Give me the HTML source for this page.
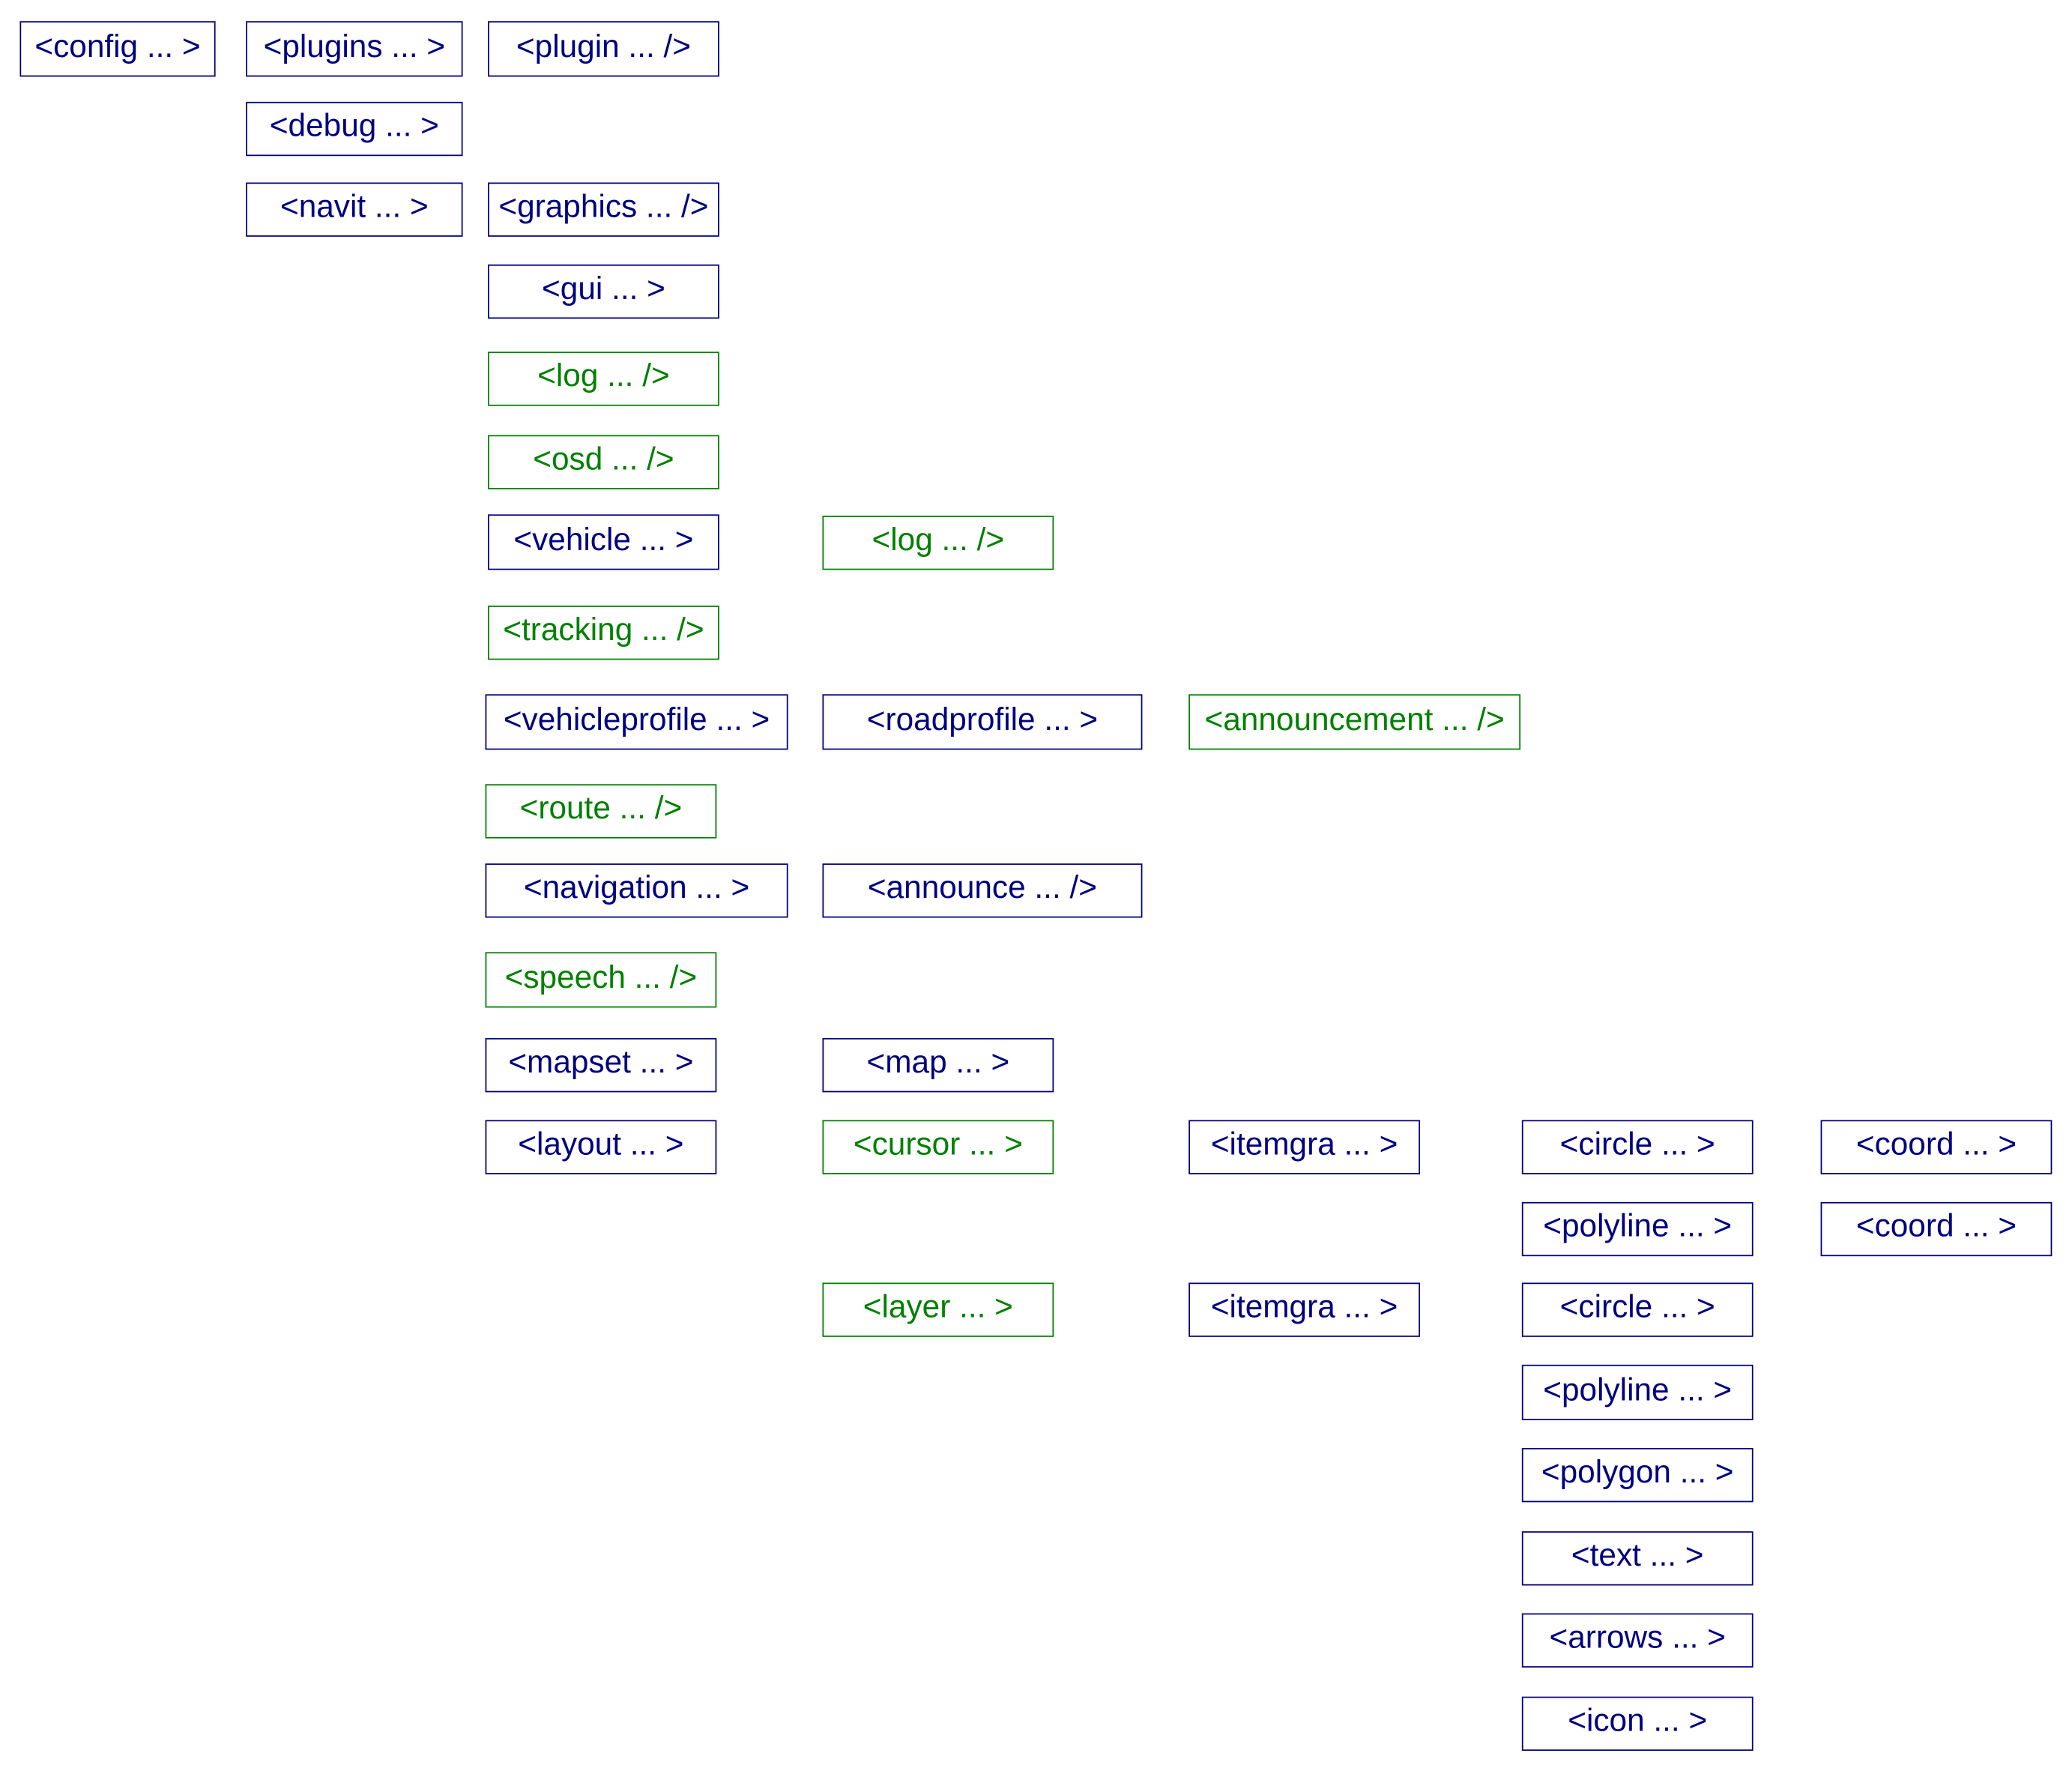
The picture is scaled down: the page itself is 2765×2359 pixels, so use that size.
<!DOCTYPE html>
<html><head><meta charset="utf-8"><style>
html,body{margin:0;padding:0;background:#fff;width:2765px;height:2359px;overflow:hidden}
#c{position:absolute;left:0;top:0;width:1560px;height:1331px;transform:scale(1.7644);transform-origin:0 0}
.b{position:absolute;box-sizing:border-box;border:1.6px solid #000080;color:#000080;font-family:"Liberation Sans",Arial,sans-serif;font-size:24px;display:flex;align-items:center;justify-content:center;white-space:nowrap;padding-bottom:3px}
.g{border-color:#008000;color:#008000}
</style></head><body><div id="c">
<div class="b" style="left:15px;top:16px;width:148px;height:42px">&lt;config ... &gt;</div>
<div class="b" style="left:186px;top:16px;width:164px;height:42px">&lt;plugins ... &gt;</div>
<div class="b" style="left:369px;top:16px;width:175px;height:42px">&lt;plugin ... /&gt;</div>
<div class="b" style="left:186px;top:77px;width:164px;height:41px">&lt;debug ... &gt;</div>
<div class="b" style="left:186px;top:138px;width:164px;height:41px">&lt;navit ... &gt;</div>
<div class="b" style="left:369px;top:138px;width:175px;height:41px">&lt;graphics ... /&gt;</div>
<div class="b" style="left:369px;top:200px;width:175px;height:41px">&lt;gui ... &gt;</div>
<div class="b g" style="left:369px;top:266px;width:175px;height:41px">&lt;log ... /&gt;</div>
<div class="b g" style="left:369px;top:329px;width:175px;height:41px">&lt;osd ... /&gt;</div>
<div class="b" style="left:369px;top:389px;width:175px;height:42px">&lt;vehicle ... &gt;</div>
<div class="b g" style="left:622px;top:390px;width:175px;height:41px">&lt;log ... /&gt;</div>
<div class="b g" style="left:369px;top:458px;width:175px;height:41px">&lt;tracking ... /&gt;</div>
<div class="b" style="left:367px;top:525px;width:229px;height:42px">&lt;vehicleprofile ... &gt;</div>
<div class="b" style="left:622px;top:525px;width:242px;height:42px">&lt;roadprofile ... &gt;</div>
<div class="b g" style="left:899px;top:525px;width:251px;height:42px">&lt;announcement ... /&gt;</div>
<div class="b g" style="left:367px;top:593px;width:175px;height:41px">&lt;route ... /&gt;</div>
<div class="b" style="left:367px;top:653px;width:229px;height:41px">&lt;navigation ... &gt;</div>
<div class="b" style="left:622px;top:653px;width:242px;height:41px">&lt;announce ... /&gt;</div>
<div class="b g" style="left:367px;top:720px;width:175px;height:42px">&lt;speech ... /&gt;</div>
<div class="b" style="left:367px;top:785px;width:175px;height:41px">&lt;mapset ... &gt;</div>
<div class="b" style="left:622px;top:785px;width:175px;height:41px">&lt;map ... &gt;</div>
<div class="b" style="left:367px;top:847px;width:175px;height:41px">&lt;layout ... &gt;</div>
<div class="b g" style="left:622px;top:847px;width:175px;height:41px">&lt;cursor ... &gt;</div>
<div class="b" style="left:899px;top:847px;width:175px;height:41px">&lt;itemgra ... &gt;</div>
<div class="b" style="left:1151px;top:847px;width:175px;height:41px">&lt;circle ... &gt;</div>
<div class="b" style="left:1377px;top:847px;width:175px;height:41px">&lt;coord ... &gt;</div>
<div class="b" style="left:1151px;top:909px;width:175px;height:41px">&lt;polyline ... &gt;</div>
<div class="b" style="left:1377px;top:909px;width:175px;height:41px">&lt;coord ... &gt;</div>
<div class="b g" style="left:622px;top:970px;width:175px;height:41px">&lt;layer ... &gt;</div>
<div class="b" style="left:899px;top:970px;width:175px;height:41px">&lt;itemgra ... &gt;</div>
<div class="b" style="left:1151px;top:970px;width:175px;height:41px">&lt;circle ... &gt;</div>
<div class="b" style="left:1151px;top:1032px;width:175px;height:42px">&lt;polyline ... &gt;</div>
<div class="b" style="left:1151px;top:1095px;width:175px;height:41px">&lt;polygon ... &gt;</div>
<div class="b" style="left:1151px;top:1158px;width:175px;height:41px">&lt;text ... &gt;</div>
<div class="b" style="left:1151px;top:1220px;width:175px;height:41px">&lt;arrows ... &gt;</div>
<div class="b" style="left:1151px;top:1283px;width:175px;height:41px">&lt;icon ... &gt;</div>
</div></body></html>
